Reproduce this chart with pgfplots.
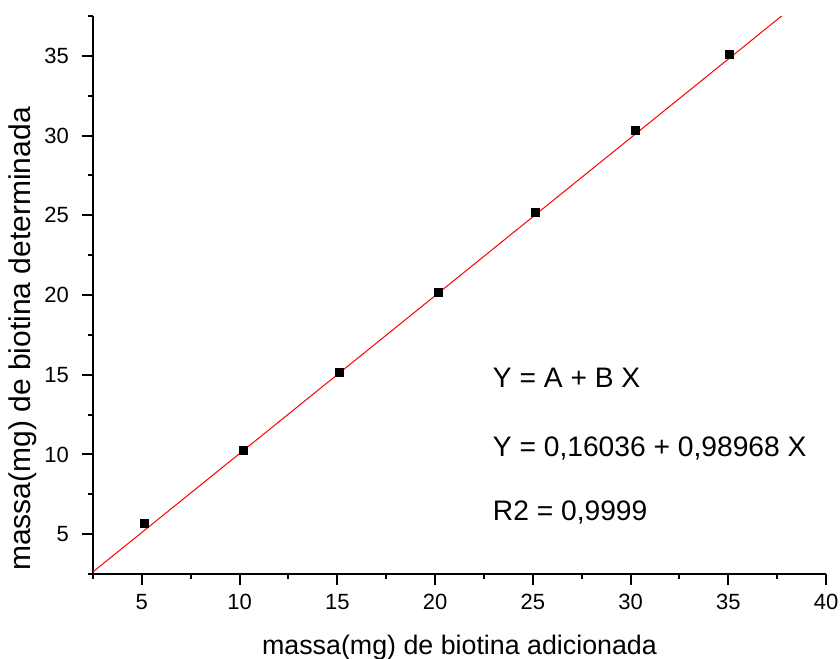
\documentclass[border=0pt]{standalone}
\usepackage{pgfplots}
\pgfplotsset{compat=1.18}
\usepackage{fontspec}
\setmainfont{Liberation Sans}
\usetikzlibrary{calc}

\begin{document}
\begin{tikzpicture}
\begin{axis}[
  scale only axis,
  width=366.5bp, height=279bp,
  xmin=2.5, xmax=40, ymin=2.5, ymax=37.5,
  axis lines*=left,
  axis line style={line width=1bp},
  tick style={line width=1bp, black},
  tick align=outside,
  major tick length=5.5bp,
  minor tick length=2.5bp,
  xtick={5,10,...,40}, ytick={5,10,...,35},
  minor xtick={2.5,7.5,...,37.5},
  minor ytick={2.5,7.5,...,37.5},
  /pgf/number format/assume math mode=true,
  tick label style={font=\fontsize{11bp}{13bp}\selectfont},
  xticklabel style={yshift=-1bp},
  yticklabel style={xshift=-3bp},
  every axis x label/.style={at={(axis description cs:0.5,0)}, anchor=center, yshift=-37bp, font=\fontsize{13.4bp}{15bp}\selectfont},
  every axis y label/.style={at={(axis description cs:0,0.5)}, rotate=90, anchor=center, yshift=35bp, xshift=-22bp, font=\fontsize{15bp}{17bp}\selectfont},
  xlabel={massa(mg) de biotina adicionada},
  ylabel={massa(mg) de biotina determinada},
  clip=true,
]
% linear fit Y = 0.16036 + 0.98968 X
\addplot[red, line width=0.5bp, no marks] coordinates {(2.5,2.634) (37.73,37.5)};
% measured points
\addplot[only marks, mark=square*, mark size=2bp, black] coordinates {
  (5.15,5.7) (10.2,10.25) (15.1,15.15) (20.15,20.15) (25.15,25.2) (30.25,30.3) (35.05,35.1)
};
\begin{scope}[every node/.style={anchor=west, inner sep=0pt, font=\fontsize{14.1bp}{16bp}\selectfont}]
\node at (axis cs:22.94,14.8) {Y = A + B X};
\node at (axis cs:22.94,10.4) {Y = 0,16036 + 0,98968 X};
\node at (axis cs:22.94,6.39) {R2 = 0,9999};
\end{scope}
\end{axis}
\pgfresetboundingbox
\path[use as bounding box] ($(current axis.south west)+(-46.5bp,-42.5bp)$) rectangle ($(current axis.north east)+(7bp,8bp)$);
\end{tikzpicture}
\end{document}
